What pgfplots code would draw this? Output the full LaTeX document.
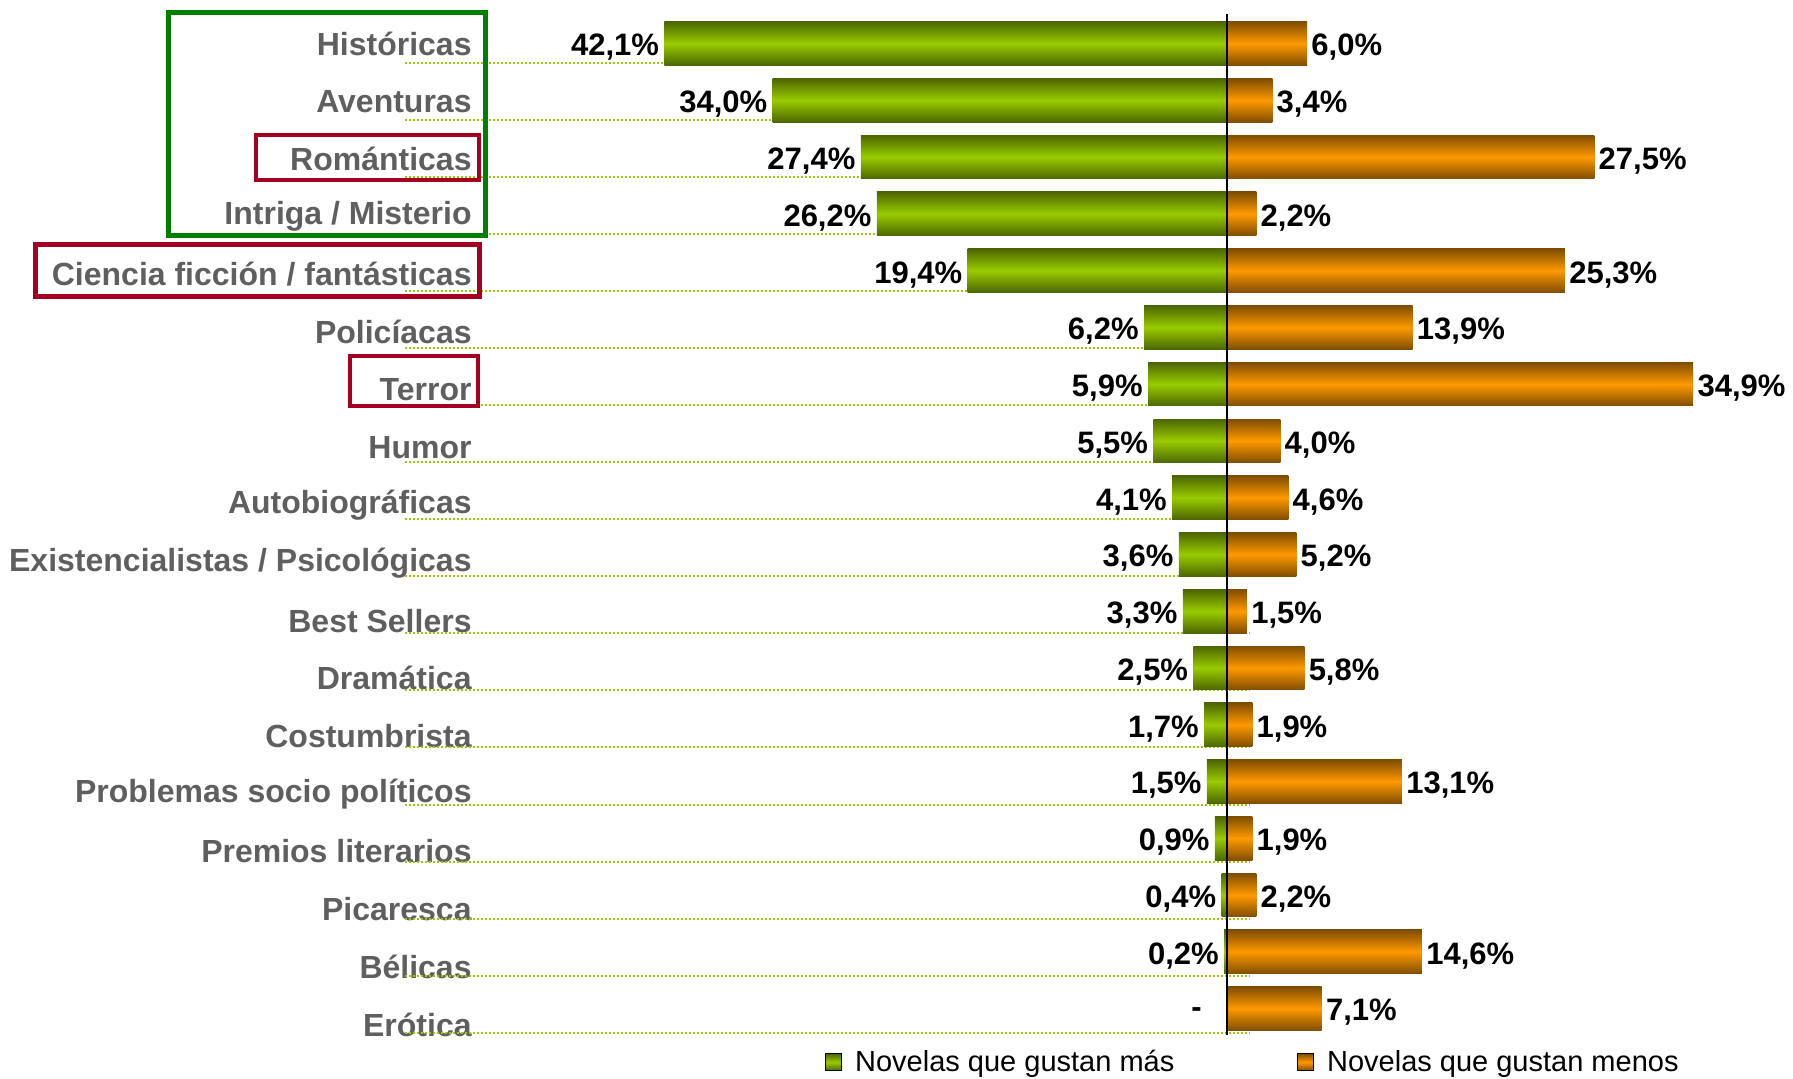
\documentclass[border=0pt]{standalone}
\usepackage{fontspec}
\setmainfont{Liberation Sans}
\usepackage{pgfplots}
\usepackage{pgfplotstable}
\pgfplotsset{compat=1.18}
\definecolor{gdark}{RGB}{76,102,0}
\definecolor{glight}{RGB}{153,204,0}
\definecolor{odark}{RGB}{128,77,0}
\definecolor{olight}{RGB}{255,153,0}
\definecolor{catgray}{RGB}{95,95,95}
\definecolor{dotgreen}{RGB}{153,204,0}
\definecolor{boxgreen}{RGB}{0,128,0}
\definecolor{boxred}{RGB}{165,0,33}

% row, gustan mas (value, label), gustan menos (value, label)
\pgfplotstableread{
row mas  masl    menos menosl
0   42.1 42,1\%  6.0   6,0\%
1   34.0 34,0\%  3.4   3,4\%
2   27.4 27,4\%  27.5  27,5\%
3   26.2 26,2\%  2.2   2,2\%
4   19.4 19,4\%  25.3  25,3\%
5   6.2  6,2\%   13.9  13,9\%
6   5.9  5,9\%   34.9  34,9\%
7   5.5  5,5\%   4.0   4,0\%
8   4.1  4,1\%   4.6   4,6\%
9   3.6  3,6\%   5.2   5,2\%
10  3.3  3,3\%   1.5   1,5\%
11  2.5  2,5\%   5.8   5,8\%
12  1.7  1,7\%   1.9   1,9\%
13  1.5  1,5\%   13.1  13,1\%
14  0.9  0,9\%   1.9   1,9\%
15  0.4  0,4\%   2.2   2,2\%
16  0.2  0,2\%   14.6  14,6\%
17  0    {\makebox[15pt][l]{-}} 7.1 7,1\%
}\datos

\pgfplotsset{
  greenbar/.style={xbar, bar width=0.77, bar shift=0pt, draw=none,
    top color=gdark, bottom color=gdark, middle color=glight},
  orangebar/.style={xbar, bar width=0.77, bar shift=0pt, draw=none,
    top color=odark, bottom color=odark, middle color=olight},
}

\begin{document}
\begin{tikzpicture}
\useasboundingbox (0,0) rectangle (896.5pt,-539.5pt);
\begin{axis}[
  at={(236pt,-4.72pt)}, anchor=north west,
  scale only axis, width=659pt, height=516.6pt,
  xmin=-56.5, xmax=42.15, ymin=-0.6, ymax=17.6, y dir=reverse,
  axis line style={draw=none}, xtick=\empty, major tick length=0pt,
  ytick={0,1.0165,2.033,3.0495,4.066,5.0825,6.099,7.1155,8.132,9.1485,10.165,11.1815,12.198,13.2145,14.231,15.2475,16.264,17.2805},
  yticklabels={Históricas,Aventuras,Románticas,Intriga / Misterio,Ciencia ficción / fantásticas,Policíacas,Terror,Humor,Autobiográficas,Existencialistas / Psicológicas,Best Sellers,Dramática,Costumbrista,Problemas socio políticos,Premios literarios,Picaresca,Bélicas,Erótica},
  yticklabel style={anchor=east, inner sep=0pt, font=\bfseries\fontsize{16pt}{19pt}\selectfont, text=catgray},
  clip=false,
  point meta=explicit symbolic,
  nodes near coords,
  every node near coord/.append style={font=\bfseries\fontsize{15.5pt}{18pt}\selectfont, text=black, inner sep=0pt, yshift=-2pt},
  legend columns=2,
  legend cell align=left,
  legend style={at={(0.2678,-0.0188)}, anchor=west, draw=none, fill=none, inner sep=0pt,
    font=\fontsize{14.5pt}{17pt}\selectfont, nodes={inner sep=0pt},
    /tikz/every odd column/.append style={column sep=6.5pt},
    /tikz/every even column/.append style={column sep=61.5pt}},
]
% dotted guide lines under each row
\pgfplotsinvokeforeach{0,...,17}{
  \draw[dotgreen, line width=1pt, dash pattern=on 1pt off 1pt]
    (axis cs:-61.5,{#1*1.005+0.34}) -- (axis cs:1.7,{#1*1.005+0.34});
}
% one plot per bar so that each bar gets its own shading
\pgfplotsinvokeforeach{0,...,17}{
  \addplot[greenbar, forget plot, restrict expr to domain={\coordindex}{#1:#1},
    every node near coord/.append style={anchor=east, xshift=-2.5pt}]
    table[x expr=-\thisrow{mas}, y=row, meta=masl] {\datos};
  \addplot[orangebar, forget plot, restrict expr to domain={\coordindex}{#1:#1},
    every node near coord/.append style={anchor=west, xshift=2pt}]
    table[x=menos, y=row, meta=menosl] {\datos};
}
\addlegendimage{legend image code/.code={\fill[top color=gdark, bottom color=gdark, middle color=glight] (0pt,-4.25pt) rectangle (8pt,4.25pt);}}
\addlegendentry{Novelas que gustan más}
\addlegendimage{legend image code/.code={\fill[top color=odark, bottom color=odark, middle color=olight] (0pt,-4.25pt) rectangle (8pt,4.25pt);}}
\addlegendentry{Novelas que gustan menos}
\draw[black, line width=1.1pt] (axis cs:0,-0.52) -- (axis cs:0,17.47);
\end{axis}
\begin{scope}[x=0.5pt, y=-0.5pt]
  \draw[boxgreen, line width=2.5pt] (168.5,12.5) rectangle (485.5,235.5);
  \draw[boxred, line width=2pt] (256,135) rectangle (479,180);
  \draw[boxred, line width=2.5pt] (35.5,244.5) rectangle (479.5,296.5);
  \draw[boxred, line width=2pt] (349.5,356.5) rectangle (478,406);
\end{scope}
\end{tikzpicture}
\end{document}
